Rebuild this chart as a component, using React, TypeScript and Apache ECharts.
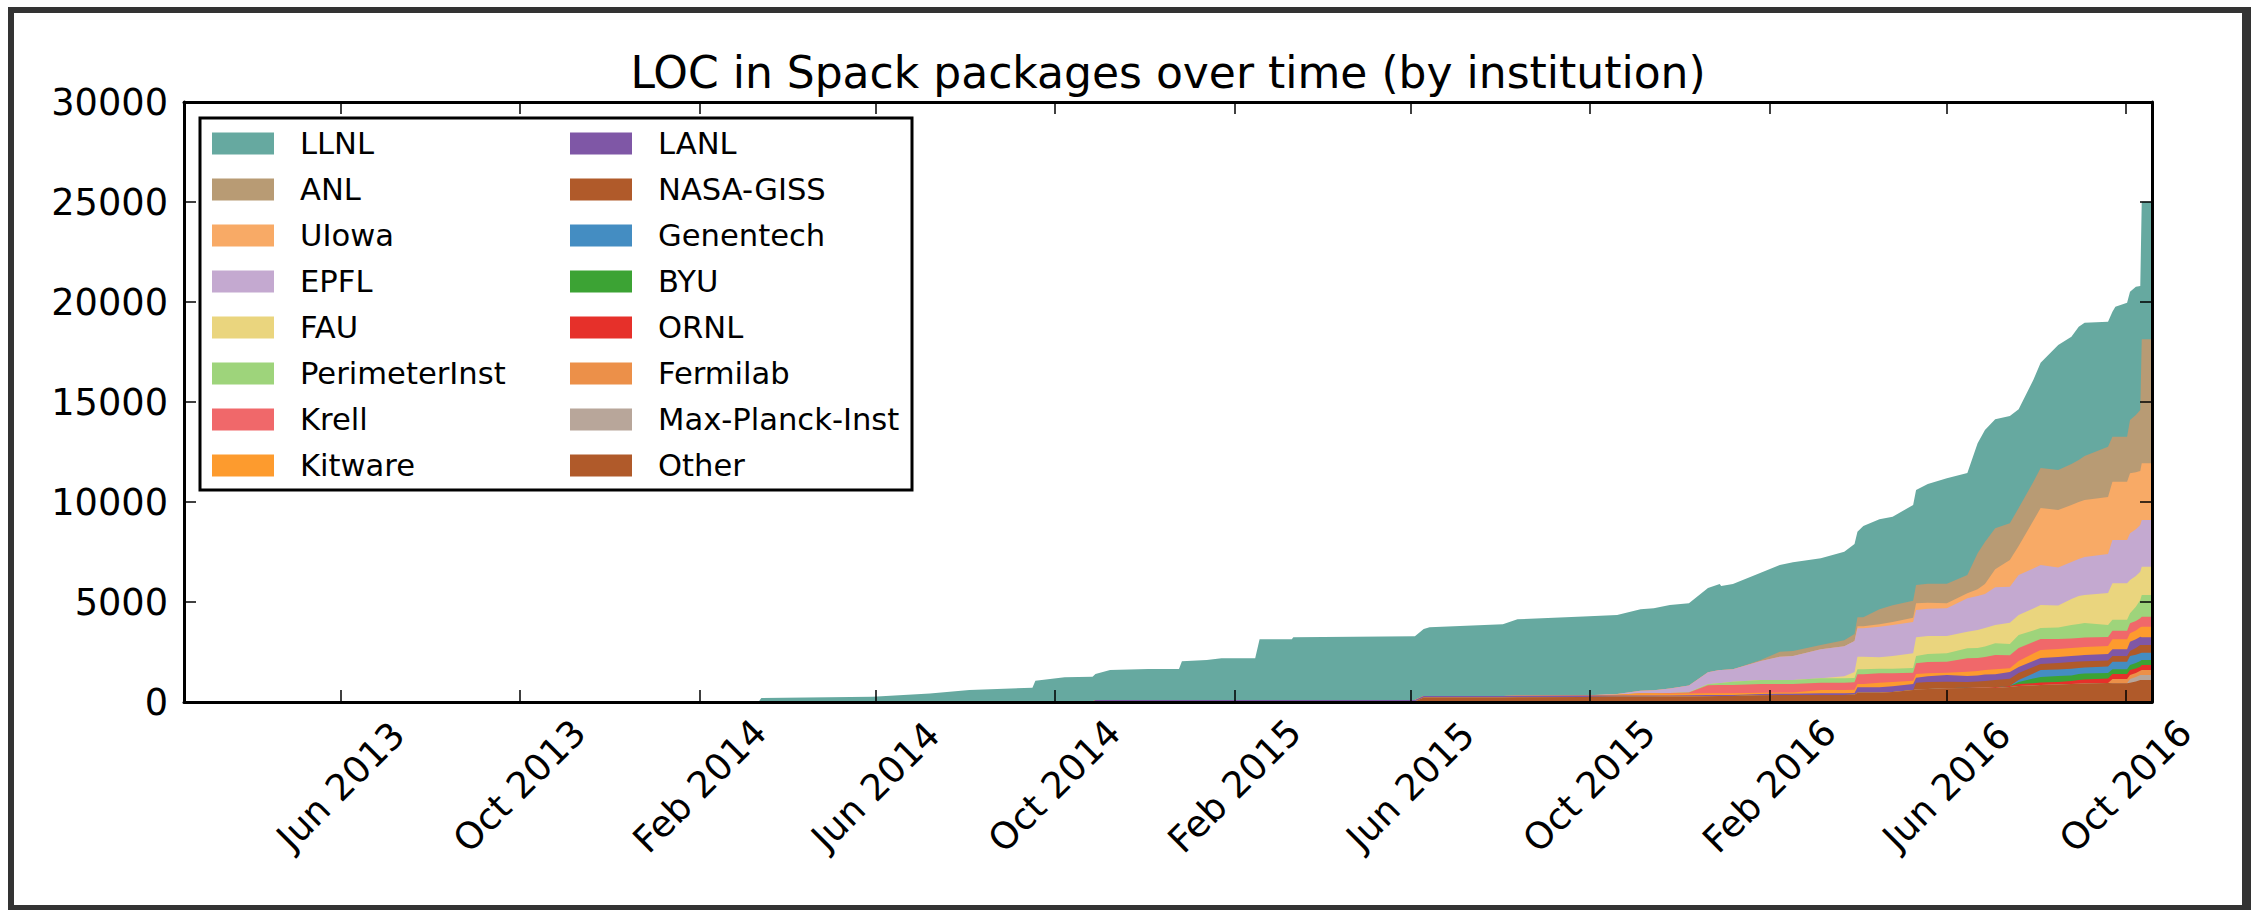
import React, { useEffect, useRef } from 'react';
import * as echarts from 'echarts';

// ---- data ----
const dates = [
  '2013-02-14', '2014-03-13', '2014-03-15', '2014-05-30', '2014-07-08',
  '2014-08-04', '2014-09-16', '2014-09-18', '2014-10-08', '2014-10-27',
  '2014-10-29', '2014-11-08', '2014-12-04', '2014-12-25', '2014-12-27',
  '2015-01-13', '2015-01-23', '2015-02-15', '2015-02-18', '2015-03-12',
  '2015-03-13', '2015-06-04', '2015-06-10', '2015-06-14', '2015-08-03',
  '2015-08-13', '2015-09-27', '2015-10-20', '2015-11-05', '2015-11-14',
  '2015-11-25', '2015-12-08', '2015-12-21', '2015-12-29', '2015-12-30',
  '2016-01-07', '2016-01-26', '2016-02-08', '2016-02-17', '2016-03-07',
  '2016-03-23', '2016-03-30', '2016-04-01', '2016-04-05', '2016-04-16',
  '2016-04-25', '2016-05-09', '2016-05-11', '2016-05-19', '2016-06-01',
  '2016-06-15', '2016-06-22', '2016-06-27', '2016-07-04', '2016-07-14',
  '2016-07-20', '2016-07-30', '2016-08-04', '2016-08-16', '2016-08-25',
  '2016-08-30', '2016-09-03', '2016-09-19', '2016-09-22', '2016-09-24',
  '2016-10-02', '2016-10-04', '2016-10-08', '2016-10-11', '2016-10-12',
  '2016-10-19',
];

const other = [
  0, 0, 0, 0, 0, 25, 25, 25, 25, 25, 25, 25, 25, 25, 25, 25, 25, 25, 25, 25,
  25, 25, 230, 230, 230, 240, 250, 260, 267, 267, 270, 280, 290, 300, 300,
  300, 340, 350, 350, 350, 350, 360, 467, 467, 467, 500, 600, 620, 650, 683,
  700, 710, 720, 700, 750, 800, 830, 850, 880, 900, 910, 920, 950, 933, 933,
  933, 967, 1030, 1100, 1100, 1100,
];
const maxPlanck = [
  0, 0, 0, 0, 0, 0, 0, 0, 0, 0, 0, 0, 0, 0, 0, 0, 0, 0, 0, 0,
  0, 0, 0, 0, 0, 0, 0, 0, 0, 0, 0, 0, 0, 0, 0, 0, 0, 0, 0, 0,
  0, 0, 0, 0, 0, 0, 0, 0, 0, 0, 0, 0, 0, 0, 0, 0, 0, 0, 0, 0,
  0, 0, 0, 0, 0, 0, 183, 217, 250, 250, 250,
];
const fermilab = [
  0, 0, 0, 0, 0, 0, 0, 0, 0, 0, 0, 0, 0, 0, 0, 0, 0, 0, 0, 0,
  0, 0, 0, 0, 0, 0, 0, 0, 0, 0, 0, 0, 0, 0, 0, 0, 0, 0, 0, 0,
  0, 0, 0, 0, 0, 0, 0, 0, 0, 0, 0, 0, 0, 0, 0, 0, 0, 0, 0, 0,
  0, 0, 0, 217, 217, 217, 200, 208, 217, 250, 250,
];
const ornl = [
  0, 0, 0, 0, 0, 0, 0, 0, 0, 0, 0, 0, 0, 0, 0, 0, 0, 0, 0, 0,
  0, 0, 0, 0, 0, 0, 0, 0, 0, 0, 0, 0, 0, 0, 0, 0, 0, 0, 0, 0,
  0, 0, 0, 0, 0, 0, 0, 0, 0, 0, 30, 30, 30, 40, 50, 100, 110, 120, 120, 150,
  190, 200, 230, 250, 250, 250, 250, 225, 200, 250, 250,
];
const byu = [
  0, 0, 0, 0, 0, 0, 0, 0, 0, 0, 0, 0, 0, 0, 0, 0, 0, 0, 0, 0,
  0, 0, 0, 0, 0, 0, 0, 0, 0, 0, 0, 0, 0, 0, 0, 0, 0, 0, 0, 0,
  0, 0, 0, 0, 0, 0, 0, 0, 0, 0, 0, 0, 0, 0, 0, 100, 230, 280, 300, 280,
  300, 300, 270, 233, 233, 233, 250, 267, 283, 250, 250,
];
const genentech = [
  0, 0, 0, 0, 0, 0, 0, 0, 0, 0, 0, 0, 0, 0, 0, 0, 0, 0, 0, 0,
  0, 0, 0, 0, 0, 0, 0, 0, 0, 0, 0, 0, 0, 0, 0, 0, 0, 0, 0, 0,
  0, 0, 0, 0, 0, 0, 0, 0, 0, 0, 0, 0, 0, 0, 0, 100, 260, 350, 320, 330,
  300, 300, 330, 384, 384, 384, 450, 417, 383, 367, 367,
];
const nasaGiss = [
  0, 0, 0, 0, 0, 0, 0, 0, 0, 0, 0, 0, 0, 0, 0, 0, 0, 0, 0, 0,
  0, 0, 0, 0, 0, 0, 0, 0, 0, 0, 0, 0, 0, 0, 0, 0, 0, 0, 0, 0,
  0, 0, 0, 0, 0, 0, 0, 347, 350, 334, 270, 290, 300, 360, 367, 350, 320, 300, 330, 340,
  320, 320, 290, 283, 283, 283, 250, 333, 417, 383, 383,
];
const lanl = [
  0, 0, 0, 0, 0, 0, 0, 0, 0, 0, 70, 70, 70, 70, 70, 70, 70, 70, 70, 70,
  70, 70, 70, 70, 70, 70, 70, 60, 60, 60, 60, 60, 60, 50, 50, 50, 60, 60, 60, 83,
  83, 90, 266, 266, 266, 283, 300, 250, 283, 333, 300, 300, 320, 283, 333, 300, 300, 300, 300, 300,
  310, 310, 330, 333, 333, 333, 467, 442, 417, 383, 383,
];
const kitware = [
  0, 0, 0, 0, 0, 0, 0, 0, 0, 0, 0, 0, 0, 0, 0, 0, 0, 0, 0, 0,
  0, 0, 0, 0, 0, 0, 0, 40, 106, 106, 100, 90, 83, 83, 83, 83, 60, 60, 60, 167,
  167, 160, 167, 167, 234, 217, 167, 183, 150, 117, 217, 220, 230, 250, 183, 300, 370, 400, 400, 400,
  400, 400, 400, 500, 500, 500, 416, 441, 466, 534, 534,
];
const krell = [
  0, 0, 0, 0, 0, 0, 0, 0, 0, 0, 0, 0, 0, 0, 0, 0, 0, 0, 0, 0,
  0, 0, 0, 0, 0, 0, 0, 0, 0, 0, 20, 40, 400, 417, 417, 417, 440, 430, 430, 367,
  367, 380, 483, 483, 466, 433, 400, 533, 567, 550, 666, 650, 650, 717, 650, 650, 580, 550, 500, 480,
  470, 470, 450, 434, 434, 434, 500, 475, 450, 500, 500,
];
const perimeterInst = [
  0, 0, 0, 0, 0, 0, 0, 0, 0, 0, 0, 0, 0, 0, 0, 0, 0, 0, 0, 0,
  0, 0, 0, 0, 0, 0, 0, 0, 0, 0, 0, 20, 50, 100, 100, 167, 200, 200, 200, 216,
  216, 210, 250, 250, 234, 234, 233, 367, 400, 416, 500, 500, 520, 583, 567, 650, 580, 550, 570, 670,
  700, 730, 600, 550, 550, 550, 500, 708, 917, 1083, 1083,
];
const fau = [
  0, 0, 0, 0, 0, 0, 0, 0, 0, 0, 0, 0, 0, 0, 0, 0, 0, 0, 0, 0,
  0, 0, 0, 0, 0, 0, 0, 0, 0, 0, 0, 0, 0, 0, 0, 0, 0, 0, 0, 0,
  100, 300, 634, 634, 566, 633, 733, 933, 900, 867, 834, 900, 930, 917, 1067, 1000, 1100, 1150, 1110, 1300,
  1400, 1400, 1600, 1816, 1816, 1816, 1667, 1542, 1417, 1417, 1417,
];
const epfl = [
  0, 0, 0, 0, 0, 0, 0, 0, 0, 0, 0, 0, 0, 0, 0, 0, 0, 0, 0, 0,
  0, 0, 0, 0, 0, 0, 0, 40, 134, 150, 230, 330, 600, 650, 650, 616, 950, 1167, 1200, 1450,
  1500, 1550, 1416, 1416, 1534, 1550, 1567, 1367, 1367, 1383, 1666, 1700, 1700, 1883, 1800, 2000, 2000, 2000, 1890, 1850,
  1850, 1900, 1950, 2167, 2167, 2167, 2333, 2333, 2333, 2333, 2333,
];
const uiowa = [
  0, 0, 0, 0, 0, 0, 0, 0, 0, 0, 0, 0, 0, 0, 0, 0, 0, 0, 0, 0,
  0, 0, 0, 0, 0, 0, 0, 0, 0, 0, 0, 0, 0, 0, 0, 0, 0, 0, 0, 0,
  0, 0, 100, 100, 116, 150, 217, 333, 300, 250, 250, 333, 500, 900, 1333, 1450, 2380, 2850, 2880, 2850,
  2850, 2850, 2850, 2917, 2917, 2917, 3000, 2850, 2700, 2833, 2833,
];
const anl = [
  0, 0, 0, 0, 0, 0, 0, 0, 0, 0, 0, 0, 0, 0, 0, 0, 0, 0, 0, 0,
  0, 0, 0, 0, 0, 0, 0, 0, 0, 0, 0, 0, 0, 0, 0, 0, 50, 250, 250, 217,
  300, 350, 450, 450, 750, 833, 850, 917, 950, 983, 917, 1800, 2100, 2050, 1833, 1900, 1940, 2000, 2000, 2050,
  2100, 2200, 2517, 2250, 2250, 2250, 2667, 2858, 3050, 6200, 6200,
];
const llnl = [
  0, 0, 200, 265, 430, 575, 692, 1042, 1208, 1242, 1305, 1505, 1555, 1555, 1938, 2005, 2088, 2088, 3038, 3038,
  3138, 3188, 3350, 3433, 3583, 3823, 3960, 3950, 4066, 4100, 4170, 4113, 4217, 4300, 4200, 4267, 4367, 4333, 4433, 4333,
  4434, 4500, 4284, 4567, 4500, 4434, 4783, 4750, 4983, 5267, 5100, 5500, 5600, 5450, 5367, 4933, 5100, 5267, 6250, 6367,
  6667, 6667, 6250, 6250, 6500, 6700, 6417, 6421, 6200, 6884, 6884,
];

const legendCol1 = ['LLNL', 'ANL', 'UIowa', 'EPFL', 'FAU', 'PerimeterInst', 'Krell', 'Kitware'];
const legendCol2 = ['LANL', 'NASA-GISS', 'Genentech', 'BYU', 'ORNL', 'Fermilab', 'Max-Planck-Inst', 'Other'];

const xTickDates = [
  '2013-06-01', '2013-10-01', '2014-02-01', '2014-06-01', '2014-10-01', '2015-02-01',
  '2015-06-01', '2015-10-01', '2016-02-01', '2016-06-01', '2016-10-01',
];
const xMinDate = '2013-02-14';
const xMaxDate = '2016-10-19';
const yTicks = [0, 5000, 10000, 15000, 20000, 25000, 30000];

const MONTHS = ['Jan', 'Feb', 'Mar', 'Apr', 'May', 'Jun', 'Jul', 'Aug', 'Sep', 'Oct', 'Nov', 'Dec'];
const FONT = 'DejaVu Sans';

// stacking order: bottom first
const layers = [
  { name: 'Other', color: '#b05a2a', values: other },
  { name: 'Max-Planck-Inst', color: '#b8a69a', values: maxPlanck },
  { name: 'Fermilab', color: '#ec9049', values: fermilab },
  { name: 'ORNL', color: '#e6302a', values: ornl },
  { name: 'BYU', color: '#3ca334', values: byu },
  { name: 'Genentech', color: '#448dc2', values: genentech },
  { name: 'NASA-GISS', color: '#b05a2a', values: nasaGiss },
  { name: 'LANL', color: '#7f57a6', values: lanl },
  { name: 'Kitware', color: '#fd9b2e', values: kitware },
  { name: 'Krell', color: '#f0686a', values: krell },
  { name: 'PerimeterInst', color: '#9ed47b', values: perimeterInst },
  { name: 'FAU', color: '#ead57e', values: fau },
  { name: 'EPFL', color: '#c4a9d0', values: epfl },
  { name: 'UIowa', color: '#f8aa66', values: uiowa },
  { name: 'ANL', color: '#b89b74', values: anl },
  { name: 'LLNL', color: '#66a9a0', values: llnl },
];

const toTs = (s: string) => {
  const p = s.split('-').map(Number);
  return new Date(p[0], p[1] - 1, p[2]).getTime();
};

// layout (px)
const G_LEFT = 184;
const G_TOP = 102;
const G_RIGHT = 2152;
const G_BOTTOM = 702;

function buildOption() {
  const tickTs = xTickDates.map(toTs);
  const xs = dates.map(toTs);

  // cumulative tops of the stack (bottom layer first)
  const running = dates.map(() => 0);
  const stacked = layers.map((l) => {
    const tops = l.values.map((v, i) => (running[i] += v));
    return { ...l, tops };
  });

  // draw the topmost layer first so that lower layers paint over it
  const series = stacked
    .slice()
    .reverse()
    .map((l, k) => ({
      name: l.name,
      type: 'line',
      symbol: 'none',
      showSymbol: false,
      silent: true,
      color: l.color,
      itemStyle: { color: l.color },
      lineStyle: { width: 0, color: l.color },
      areaStyle: { color: l.color, opacity: 1, origin: 'start' },
      emphasis: { disabled: true },
      z: 2,
      zlevel: 0,
      data: xs.map((x, i) => [x, l.tops[i]]),
    }));

  const legendCommon = {
    orient: 'vertical',
    top: 128,
    padding: 0,
    itemWidth: 62,
    itemHeight: 22,
    itemGap: 15,
    icon: 'rect',
    symbolKeepAspect: false,
    selectedMode: false,
    itemStyle: { borderWidth: 0 },
    textStyle: {
      fontFamily: FONT,
      fontSize: 30.6,
      color: '#000',
      padding: [0, 0, 0, 21],
    },
    z: 6,
  };

  const axisLine = { show: true, onZero: false, lineStyle: { color: '#000', width: 3 } };
  const tickStyle = { show: true, inside: true, length: 12, lineStyle: { color: '#000', width: 1.5 } };

  return {
    animation: false,
    backgroundColor: '#fff',
    grid: {
      left: G_LEFT,
      top: G_TOP,
      width: G_RIGHT - G_LEFT,
      height: G_BOTTOM - G_TOP,
      containLabel: false,
      outerBoundsMode: 'none',
    },
    legend: [
      { ...legendCommon, left: 212, data: legendCol1 },
      { ...legendCommon, left: 570, data: legendCol2 },
    ],
    xAxis: [
      {
        type: 'value',
        position: 'bottom',
        min: toTs(xMinDate),
        max: toTs(xMaxDate),
        scale: true,
        z: 10,
        axisLine,
        axisTick: { ...tickStyle, customValues: tickTs },
        splitLine: { show: false },
        axisLabel: {
          customValues: tickTs,
          rotate: 45,
          align: 'center',
          verticalAlign: 'middle',
          margin: 84,
          fontFamily: FONT,
          fontSize: 36.7,
          color: '#000',
          hideOverlap: false,
          formatter: (v: number) => {
            const d = new Date(v);
            return MONTHS[d.getMonth()] + ' ' + d.getFullYear();
          },
        },
      },
      {
        type: 'value',
        position: 'top',
        min: toTs(xMinDate),
        max: toTs(xMaxDate),
        scale: true,
        z: 10,
        axisLine,
        axisTick: { ...tickStyle, customValues: tickTs },
        splitLine: { show: false },
        axisLabel: { show: false },
      },
    ],
    yAxis: [
      {
        type: 'value',
        position: 'left',
        min: yTicks[0],
        max: yTicks[yTicks.length - 1],
        interval: 5000,
        z: 10,
        axisLine,
        axisTick: tickStyle,
        splitLine: { show: false },
        axisLabel: {
          margin: 16,
          fontFamily: FONT,
          fontSize: 36.7,
          color: '#000',
          showMinLabel: true,
          showMaxLabel: true,
          formatter: (v: number) => String(v),
        },
      },
      {
        type: 'value',
        position: 'right',
        min: yTicks[0],
        max: yTicks[yTicks.length - 1],
        interval: 5000,
        z: 10,
        axisLine,
        axisTick: tickStyle,
        splitLine: { show: false },
        axisLabel: { show: false },
      },
    ],
    graphic: [
      // outer frame
      { type: 'rect', z: 20, shape: { x: 8, y: 7, width: 2243, height: 6 }, style: { fill: '#333' } },
      { type: 'rect', z: 20, shape: { x: 8, y: 905, width: 2243, height: 6 }, style: { fill: '#333' } },
      { type: 'rect', z: 20, shape: { x: 8, y: 7, width: 6, height: 904 }, style: { fill: '#333' } },
      { type: 'rect', z: 20, shape: { x: 2242, y: 7, width: 9, height: 904 }, style: { fill: '#333' } },
      // legend box
      {
        type: 'rect',
        z: 5,
        shape: { x: 200, y: 118, width: 712, height: 372 },
        style: { fill: '#fff', stroke: '#000', lineWidth: 3 },
      },
      // title
      {
        type: 'text',
        z: 20,
        x: (G_LEFT + G_RIGHT) / 2,
        y: 72,
        style: {
          text: 'LOC in Spack packages over time (by institution)',
          font: '44px "DejaVu Sans"',
          fill: '#000',
          textAlign: 'center',
          textVerticalAlign: 'middle',
        },
      },
    ],
    series,
  };
}

export default function App() {
  const ref = useRef<HTMLDivElement>(null);
  useEffect(() => {
    document.body.style.margin = '0';
    document.body.style.overflow = 'hidden';
    const chart = echarts.init(ref.current as HTMLDivElement, null, { renderer: 'svg' });
    chart.setOption(buildOption() as any);
    return () => {
      chart.dispose();
    };
  }, []);
  return <div ref={ref} style={{ width: 2257, height: 910 }} />;
}
